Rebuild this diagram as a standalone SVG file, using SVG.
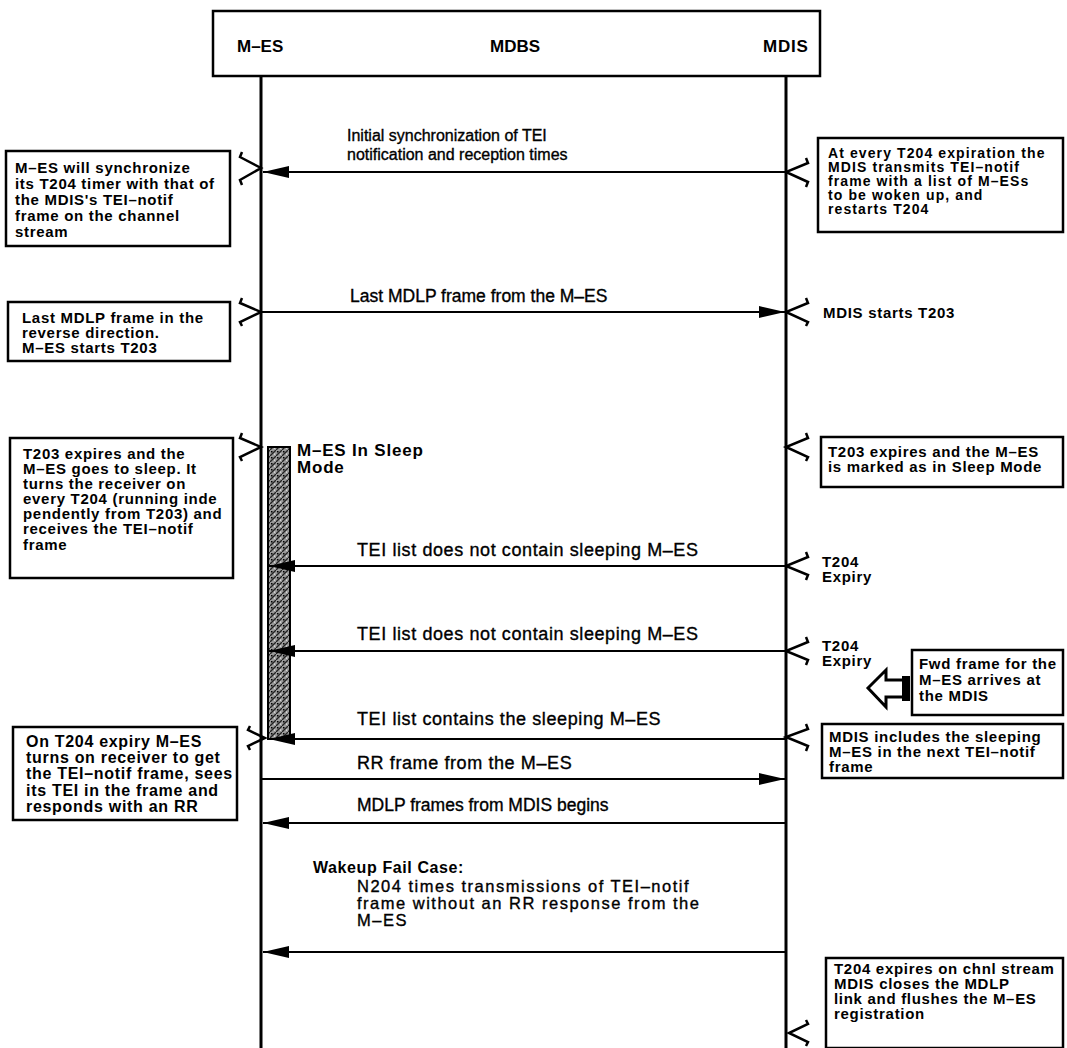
<svg xmlns="http://www.w3.org/2000/svg" width="1067" height="1048" viewBox="0 0 1067 1048">
<style>
.bg{fill:#fff}
.box{fill:#fff;stroke:#000;stroke-width:2.5}
.life{stroke:#000;stroke-width:3;fill:none}
.msg{stroke:#000;stroke-width:2;fill:none}
.brk{stroke:#000;stroke-width:2.5;fill:none;stroke-linejoin:miter}
.hd{font-family:"Liberation Sans",Arial,sans-serif;font-weight:bold;font-size:17px;fill:#000}
.lbl{font-family:"Liberation Sans",Arial,sans-serif;font-size:16px;fill:#000;stroke:#000;stroke-width:0.35}
.big{font-size:18px;letter-spacing:0.6px}
.n204{font-size:16.5px;letter-spacing:1.5px}
.nt{font-family:"Liberation Sans",Arial,sans-serif;font-weight:bold;font-size:15px;letter-spacing:0.7px;fill:#000}
.nts{font-size:14px;letter-spacing:1.1px}
</style>
<defs>
<marker id="ah" viewBox="0 0 26 12" refX="26" refY="6" markerWidth="26" markerHeight="12" markerUnits="userSpaceOnUse" orient="auto">
<path d="M0,0 L26,6 L0,12 Z" fill="#000"/>
</marker>
<pattern id="hatch" width="6" height="6" patternUnits="userSpaceOnUse">
<rect width="6" height="6" fill="#999"/>
<path d="M0,6 L6,0" stroke="#222" stroke-width="1.3"/>
<rect x="1" y="1" width="1.5" height="1.5" fill="#000"/>
<rect x="4" y="3.5" width="1.2" height="1.2" fill="#eee"/>
</pattern>
</defs>
<rect class="bg" x="0" y="0" width="1067" height="1048"/>

<g id="header">
<rect class="box" x="213" y="11" width="607" height="65"/>
<text class="hd" x="237" y="52">M–ES</text>
<text class="hd" x="490" y="52">MDBS</text>
<text class="hd" x="763" y="52" style="letter-spacing:0.8px">MDIS</text>
</g>

<g id="lifelines">
<line class="life" x1="261" y1="76" x2="261" y2="1048"/>
<line class="life" x1="786" y1="76" x2="786" y2="1048"/>
</g>

<g id="sleep-bar">
<rect x="268" y="447" width="22" height="292" fill="url(#hatch)" stroke="#000" stroke-width="2"/>
<text class="nt" x="297" y="456" style="font-size:17px;letter-spacing:0.8px">M–ES In Sleep</text>
<text class="nt" x="297" y="473" style="font-size:17px;letter-spacing:0.8px">Mode</text>
</g>

<g id="connectors">
<line class="msg" x1="786" y1="172" x2="263" y2="172" marker-end="url(#ah)"/>
<line class="msg" x1="262" y1="312" x2="785" y2="312" marker-end="url(#ah)"/>
<line class="msg" x1="786" y1="566" x2="269" y2="566" marker-end="url(#ah)"/>
<line class="msg" x1="786" y1="651" x2="269" y2="651" marker-end="url(#ah)"/>
<line class="msg" x1="786" y1="739" x2="269" y2="739" marker-end="url(#ah)"/>
<line class="msg" x1="262" y1="779" x2="785" y2="779" marker-end="url(#ah)"/>
<line class="msg" x1="786" y1="823" x2="263" y2="823" marker-end="url(#ah)"/>
<line class="msg" x1="786" y1="952" x2="263" y2="952" marker-end="url(#ah)"/>
</g>

<g id="brackets">
<polyline class="brk" points="242,152 240,157 261,168 240,180 242,185"/>
<polyline class="brk" points="242,298 240,303 261,312 240,322 242,326"/>
<polyline class="brk" points="242,433 240,438 261,447 240,457 242,461"/>
<polyline class="brk" points="250,726 248,730 265,738 248,746 250,750"/>
<polyline class="brk" points="806,158 808,163 786,172 808,182 806,187"/>
<polyline class="brk" points="806,298 808,303 786,312 808,322 806,326"/>
<polyline class="brk" points="806,433 808,438 786,447 808,457 806,461"/>
<polyline class="brk" points="806,552 808,557 786,566 808,575 806,580"/>
<polyline class="brk" points="806,637 808,642 786,651 808,660 806,665"/>
<polyline class="brk" points="806,724 808,729 786,737 808,746 806,751"/>
<polyline class="brk" points="806,1020 808,1024 789,1033 808,1042 806,1046"/>
</g>

<g id="msg-labels">
<text class="lbl" x="347" y="141">Initial synchronization of TEI</text>
<text class="lbl" x="347" y="160">notification and reception times</text>
<text class="lbl" x="350" y="302" style="font-size:17.5px">Last MDLP frame from the M–ES</text>
<text class="lbl big" x="357" y="556">TEI list does not contain sleeping M–ES</text>
<text class="lbl big" x="357" y="640">TEI list does not contain sleeping M–ES</text>
<text class="lbl big" x="357" y="725">TEI list contains the sleeping M–ES</text>
<text class="lbl big" x="357" y="769">RR frame from the M–ES</text>
<text class="lbl" x="357" y="811" style="font-size:17.5px">MDLP frames from MDIS begins</text>
<text class="hd" x="313" y="873" style="font-size:16px;letter-spacing:0.6px">Wakeup Fail Case:</text>
<text class="lbl n204" x="357" y="892">N204 times transmissions of TEI–notif</text>
<text class="lbl n204" x="357" y="909">frame without an RR response from the</text>
<text class="lbl n204" x="357" y="926">M–ES</text>
</g>

<g id="note-mes-sync">
<rect class="box" x="6" y="151" width="224" height="95"/>
<text class="nt" x="15" y="173">M–ES will synchronize</text>
<text class="nt" x="15" y="189">its T204 timer with that of</text>
<text class="nt" x="15" y="205">the MDIS's TEI–notif</text>
<text class="nt" x="15" y="221">frame on the channel</text>
<text class="nt" x="15" y="237">stream</text>
</g>

<g id="note-mdis-t204">
<rect class="box" x="818" y="138" width="245" height="94"/>
<text class="nt nts" x="828" y="158">At every T204 expiration the</text>
<text class="nt nts" x="828" y="172">MDIS transmits TEI–notif</text>
<text class="nt nts" x="828" y="186">frame with a list of M–ESs</text>
<text class="nt nts" x="828" y="200">to be woken up, and</text>
<text class="nt nts" x="828" y="214">restarts T204</text>
</g>

<g id="note-last-mdlp">
<rect class="box" x="8" y="302" width="222" height="59"/>
<text class="nt" x="22" y="323">Last MDLP frame in the</text>
<text class="nt" x="22" y="338">reverse direction.</text>
<text class="nt" x="22" y="353">M–ES starts T203</text>
</g>

<g id="note-mdis-t203">
<text class="nt" x="823" y="318">MDIS starts T203</text>
</g>

<g id="note-mes-sleep">
<rect class="box" x="10" y="438" width="223" height="140"/>
<text class="nt" x="23" y="459">T203 expires and the</text>
<text class="nt" x="23" y="474">M–ES goes to sleep. It</text>
<text class="nt" x="23" y="489">turns the receiver on</text>
<text class="nt" x="23" y="504">every T204 (running inde</text>
<text class="nt" x="23" y="519">pendently from T203) and</text>
<text class="nt" x="23" y="534">receives the TEI–notif</text>
<text class="nt" x="23" y="550">frame</text>
</g>

<g id="note-mdis-sleep">
<rect class="box" x="821" y="437" width="242" height="50"/>
<text class="nt" x="828" y="457">T203 expires and the M–ES</text>
<text class="nt" x="828" y="472">is marked as in Sleep Mode</text>
</g>

<g id="note-t204-1">
<text class="nt" x="822" y="567">T204</text>
<text class="nt" x="822" y="582">Expiry</text>
</g>

<g id="note-t204-2">
<text class="nt" x="822" y="651">T204</text>
<text class="nt" x="822" y="666">Expiry</text>
</g>

<g id="note-fwd-frame">
<path d="M868,688 L886,670 L886,680 L906,680 L906,697 L886,697 L886,707 Z" fill="#fff" stroke="#000" stroke-width="3"/>
<rect x="902" y="676" width="8" height="25" fill="#000"/>
<rect class="box" x="912" y="650" width="151" height="65"/>
<text class="nt" x="919" y="669">Fwd frame for the</text>
<text class="nt" x="919" y="685">M–ES arrives at</text>
<text class="nt" x="919" y="701">the MDIS</text>
</g>

<g id="note-mdis-includes">
<rect class="box" x="822" y="724" width="241" height="54"/>
<text class="nt" x="829" y="742">MDIS includes the sleeping</text>
<text class="nt" x="829" y="757">M–ES in the next TEI–notif</text>
<text class="nt" x="829" y="772">frame</text>
</g>

<g id="note-mes-rr">
<rect class="box" x="13" y="727" width="224" height="93"/>
<text class="nt" x="26" y="747" style="font-size:16px">On T204 expiry M–ES</text>
<text class="nt" x="26" y="763" style="font-size:16px">turns on receiver to get</text>
<text class="nt" x="26" y="779" style="font-size:16px">the TEI–notif frame, sees</text>
<text class="nt" x="26" y="796" style="font-size:16px">its TEI in the frame and</text>
<text class="nt" x="26" y="812" style="font-size:16px">responds with an RR</text>
</g>

<g id="note-mdis-close">
<rect class="box" x="826" y="958" width="237" height="90"/>
<text class="nt" x="834" y="974">T204 expires on chnl stream</text>
<text class="nt" x="834" y="989">MDIS closes the MDLP</text>
<text class="nt" x="834" y="1004">link and flushes the M–ES</text>
<text class="nt" x="834" y="1019">registration</text>
</g>
</svg>
